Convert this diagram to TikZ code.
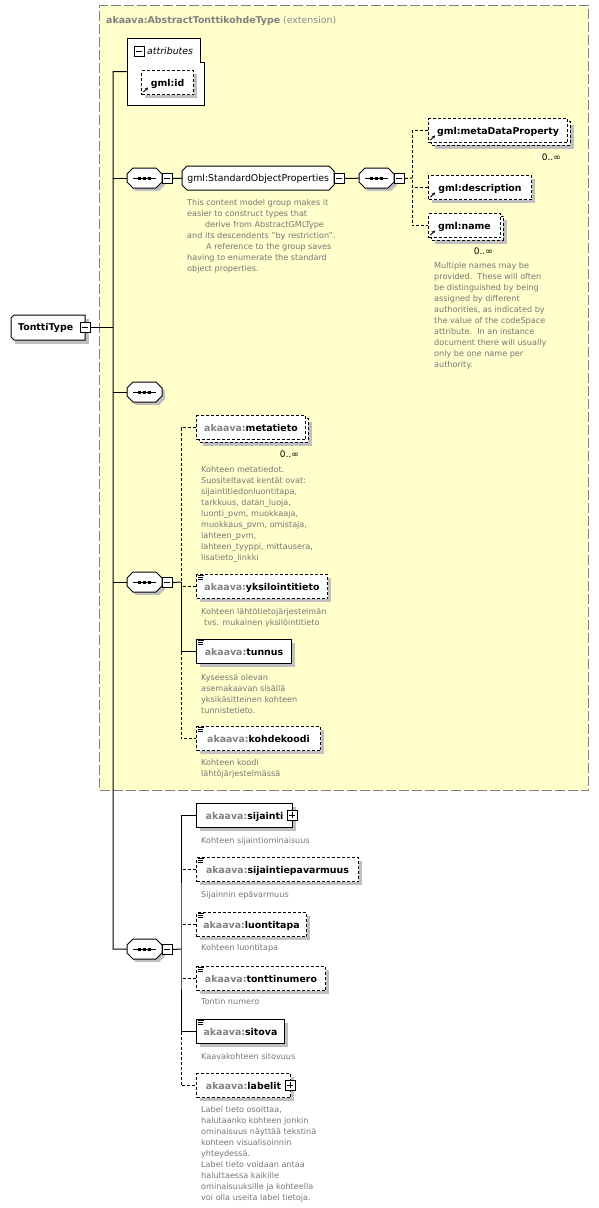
\documentclass[tikz,border=0pt]{standalone}
\usepackage{fontspec}
\setmainfont{DejaVu Sans}
\usetikzlibrary{arrows.meta}
\definecolor{ybg}{RGB}{255,255,204}
\definecolor{bordergray}{RGB}{128,128,128}
\definecolor{shd}{RGB}{192,192,192}
\definecolor{pfx}{RGB}{128,128,128}
\definecolor{pfxl}{RGB}{140,140,140}
\definecolor{dsc}{RGB}{118,118,118}
\newcommand\pf[1]{\textcolor{pfx}{#1}}
\newcommand\elfont{\fontsize{9.4}{11}\selectfont\bfseries}
\newcommand\dsfont{\fontsize{8.1}{11}\selectfont}
\newcommand\elem[6]{%
  \fill[shd] (#3+4,#4+4) rectangle ++(#5,24);
  \node[#2, minimum width=#5pt] (#1) at (#3,#4) {#6};}
\newcommand\elemm[6]{%
  \fill[shd] (#3+7,#4+7) rectangle ++(#5,24);
  \draw[fill=white, line width=1pt, dash pattern=on 3pt off 2pt] (#3+3,#4+3) rectangle ++(#5,24);
  \node[#2, minimum width=#5pt] (#1) at (#3,#4) {#6};}
\newcommand\docicon[2]{%
  \draw[line width=0.7pt] (#1+1.5,#2+1.5) -- ++(6.5,0) (#1+1.5,#2+3.5) -- ++(5,0) (#1+1.5,#2+5.5) -- ++(5,0);}
\newcommand\reficon[2]{%
  \draw[line width=0.9pt, -{Stealth[length=3pt,width=3.2pt]}] (#1+2.5,#2+22) -- (#1+7,#2+17.5);}
\newcommand\pmbox[4]{%
  \node[pm] (#1) at (#2,#3) {};
  \draw[line width=1pt] (#2+2,#3+5) -- (#2+8,#3+5);
  \ifnum#4=1 \draw[line width=1pt] (#2+5,#3+2) -- (#2+5,#3+8);\fi}
\newcommand\seqc[3]{%
  \fill[shd] (#2+9,#3+3) -- (#2+32,#3+3) -- (#2+38,#3+9) -- (#2+38,#3+17) -- (#2+32,#3+23) -- (#2+9,#3+23) -- (#2+3,#3+17) -- (#2+3,#3+9) -- cycle;
  \draw[fill=white, line width=1pt] (#2+6,#3) -- (#2+29,#3) -- (#2+35,#3+6) -- (#2+35,#3+14) -- (#2+29,#3+20) -- (#2+6,#3+20) -- (#2,#3+14) -- (#2,#3+6) -- cycle;
  \node[anchor=north west, minimum width=35pt, minimum height=20pt, inner sep=0pt] (#1) at (#2,#3) {};
  \draw[line width=1pt] (#2+6,#3+10) -- (#2+29,#3+10);
  \fill (#2+11,#3+8.5) rectangle ++(3,3);
  \fill (#2+16,#3+8.5) rectangle ++(3,3);
  \fill (#2+21,#3+8.5) rectangle ++(3,3);}
\tikzset{
  conn/.style={line width=1pt},
  optl/.style={line width=1pt, dash pattern=on 3pt off 2pt},
  elbox/.style={draw, fill=white, line width=1pt, anchor=north west, inner xsep=1pt, inner ysep=0pt,
    minimum height=24pt, text height=8pt, text depth=1pt, font=\elfont},
  optbox/.style={elbox, dash pattern=on 3pt off 2pt},
  desc/.style={anchor=base west, align=left, inner sep=0pt, font=\dsfont, text=dsc},
  occ/.style={anchor=base east, inner sep=0pt, font=\fontsize{9}{10}\selectfont},
  pm/.style={draw, fill=white, line width=1pt, minimum size=10pt, inner sep=0pt, anchor=north west},
}
\begin{document}
\begin{tikzpicture}[x=1pt, y=-1pt, line join=miter]
\useasboundingbox (0,0) rectangle (598,1208);
% extension box
\node[draw=bordergray, fill=ybg, line width=1pt, dash pattern=on 10pt off 3pt, anchor=north west,
  minimum width=489pt, minimum height=785pt, inner sep=0pt] (ext) at (99,5) {};
\node[anchor=base west, inner sep=0pt, font=\fontsize{9.4}{11}\selectfont, text=pfx] (title) at (106,23)
  {\textbf{akaava:AbstractTonttikohdeType} \textcolor{pfxl}{(extension)}};
% attributes
\draw[fill=white, line width=1pt] (127,38) -- (200,38) -- (200,62) -- (204,62) -- (204,105) -- (127,105) -- cycle;
\node[anchor=north west, minimum width=77pt, minimum height=67pt, inner sep=0pt] (attr) at (127,38) {};
\pmbox{attrm}{134}{46}{0}
\node[anchor=base west, inner sep=0pt, font=\fontsize{9.4}{11}\selectfont\itshape] (attrt) at (147,54) {attributes};
\elem{gmlid}{optbox}{141}{70}{52}{gml:id}
\reficon{141}{70}
% TonttiType
\fill[shd] (15,319) rectangle (89,344);
\draw[fill=white, line width=1pt] (14,315) -- (85,315) -- (85,340) -- (14,340) -- (11,337) -- (11,318) -- cycle;
\node[anchor=north west, minimum width=69pt, minimum height=25pt, inner sep=0pt, font=\elfont] (tt) at (11,315) {TonttiType};
\pmbox{ttm}{80}{322}{0}
% compositors
\seqc{seq1}{127}{168}
\pmbox{seq1m}{162}{173}{0}
\draw[fill=white, line width=1pt] (187,166) -- (329,166) -- (334,171) -- (334,185) -- (329,190) -- (187,190) -- (182,185) -- (182,171) -- cycle;
\node[anchor=north west, minimum width=152pt, minimum height=24pt, inner sep=0pt, text height=8pt, text depth=1pt,
  font=\fontsize{9.4}{11}\selectfont] (sop) at (182,166) {gml:StandardObjectProperties};
\pmbox{sopm}{334}{173}{0}
\seqc{seq2}{359}{168}
\pmbox{seq2m}{394}{173}{0}
\seqc{seqe}{127}{382}
\seqc{seq3}{127}{572}
\pmbox{seq3m}{162}{577}{0}
\seqc{seq4}{127}{939}
\pmbox{seq4m}{162}{944}{0}
% gml elements
\elemm{mdp}{optbox}{428}{118}{139}{gml:metaDataProperty}
\reficon{428}{118}
\node[occ] (mdpo) at (561,160) {0..∞};
\elem{gdesc}{optbox}{428}{175}{103}{gml:description}
\reficon{428}{175}
\elemm{gname}{optbox}{428}{213}{72}{gml:name}
\reficon{428}{213}
\node[occ] (gnameo) at (493,254) {0..∞};
% akaava elements in extension
\elemm{meta}{optbox}{196}{415}{109}{\pf{akaava:}metatieto}
\node[occ] (metao) at (299,457) {0..∞};
\elem{yks}{optbox}{196}{574}{131}{\pf{akaava:}yksilointitieto}
\docicon{196}{574}
\elem{tun}{elbox}{196}{639}{95}{\pf{akaava:}tunnus}
\docicon{196}{639}
\elem{koh}{optbox}{196}{726}{124}{\pf{akaava:}kohdekoodi}
\docicon{196}{726}
% own elements
\elem{sij}{elbox}{196}{803}{96}{\pf{akaava:}sijainti}
\pmbox{sijp}{287}{810}{1}
\elem{sepv}{optbox}{196}{857}{162}{\pf{akaava:}sijaintiepavarmuus}
\docicon{196}{857}
\elem{luo}{optbox}{196}{912}{110}{\pf{akaava:}luontitapa}
\docicon{196}{912}
\elem{ton}{optbox}{196}{966}{129}{\pf{akaava:}tonttinumero}
\docicon{196}{966}
\elem{sit}{elbox}{196}{1019}{88}{\pf{akaava:}sitova}
\docicon{196}{1019}
\elem{lab}{optbox}{196}{1073}{94}{\pf{akaava:}labelit}
\pmbox{labp}{285}{1080}{1}
% descriptions (base anchor = baseline of last line)
\node[desc] (sopd) at (187,271) {This content model group makes it\\easier to construct types that\\\hspace*{18pt}derive from AbstractGMLType\\and its descendents "by restriction".\\\hspace*{19pt}A reference to the group saves\\having to enumerate the standard\\object properties.};
\node[desc] (gnamed) at (434,367) {Multiple names may be\\provided.\ \ These will often\\be distinguished by being\\assigned by different\\authorities, as indicated by\\the value of the codeSpace\\attribute.\ \ In an instance\\document there will usually\\only be one name per\\authority.};
\node[desc] (metad) at (201,560) {Kohteen metatiedot.\\Suositeltavat kentät ovat:\\sijaintitiedonluontitapa,\\tarkkuus, datan\_luoja,\\luonti\_pvm, muokkaaja,\\muokkaus\_pvm, omistaja,\\lahteen\_pvm,\\lahteen\_tyyppi, mittausera,\\lisatieto\_linkki};
\node[desc] (yksd) at (201,625) {Kohteen lähtötietojärjestelmän\\\hspace*{3pt}tvs. mukainen yksilöintitieto};
\node[desc] (tund) at (201,713) {Kyseessä olevan\\asemakaavan sisällä\\yksikäsitteinen kohteen\\tunnistetieto.};
\node[desc] (kohd) at (201,776) {Kohteen koodi\\lähtöjärjestelmässä};
\node[desc] (sijd) at (201,843) {Kohteen sijaintiominaisuus};
\node[desc] (sepvd) at (201,897) {Sijainnin epävarmuus};
\node[desc] (luod) at (201,950) {Kohteen luontitapa};
\node[desc] (tond) at (201,1004) {Tontin numero};
\node[desc] (sitd) at (201,1059) {Kaavakohteen sitovuus};
\node[desc] (labd) at (201,1200) {Label tieto osoittaa,\\halutaanko kohteen jonkin\\ominaisuus näyttää tekstinä\\kohteen visualisoinnin\\yhteydessä.\\Label tieto voidaan antaa\\haluttaessa kaikille\\ominaisuuksille ja kohteella\\voi olla useita label tietoja.};
% connectors
\coordinate (bm) at (113,949);
\draw[conn] (attr.west) -| (bm) -- (seq4.west);
\draw[conn] (ttm.east) -- (ttm.east -| bm);
\draw[conn] (seq1.west) -- (seq1.west -| bm);
\draw[conn] (seqe.west) -- (seqe.west -| bm);
\draw[conn] (seq3.west) -- (seq3.west -| bm);
\draw[conn] (seq1m.east) -- (sop.west);
\draw[conn] (sopm.east) -- (seq2.west);
\coordinate (b2) at (412,178);
\draw[optl] (seq2m.east) -- (b2);
\draw[optl] (mdp.west) -| (b2) |- (gname.west);
\draw[optl] (gdesc.west) -- (gdesc.west -| b2);
\coordinate (b3) at (181,582);
\draw[conn] (seq3m.east) -- (b3);
\draw[optl] (meta.west) -| (b3);
\draw[conn] (b3) |- (tun.west);
\draw[optl] (yks.west) -- (yks.west -| b3);
\draw[optl] (tun.west -| b3) |- (koh.west);
\coordinate (b4) at (181,949);
\draw[conn] (seq4m.east) -- (b4);
\draw[conn] (sij.west) -| (b4) |- (sit.west);
\draw[optl] (sepv.west) -- (sepv.west -| b4);
\draw[optl] (luo.west) -- (luo.west -| b4);
\draw[optl] (ton.west) -- (ton.west -| b4);
\draw[optl] (sit.west -| b4) |- (lab.west);
\end{tikzpicture}
\end{document}
